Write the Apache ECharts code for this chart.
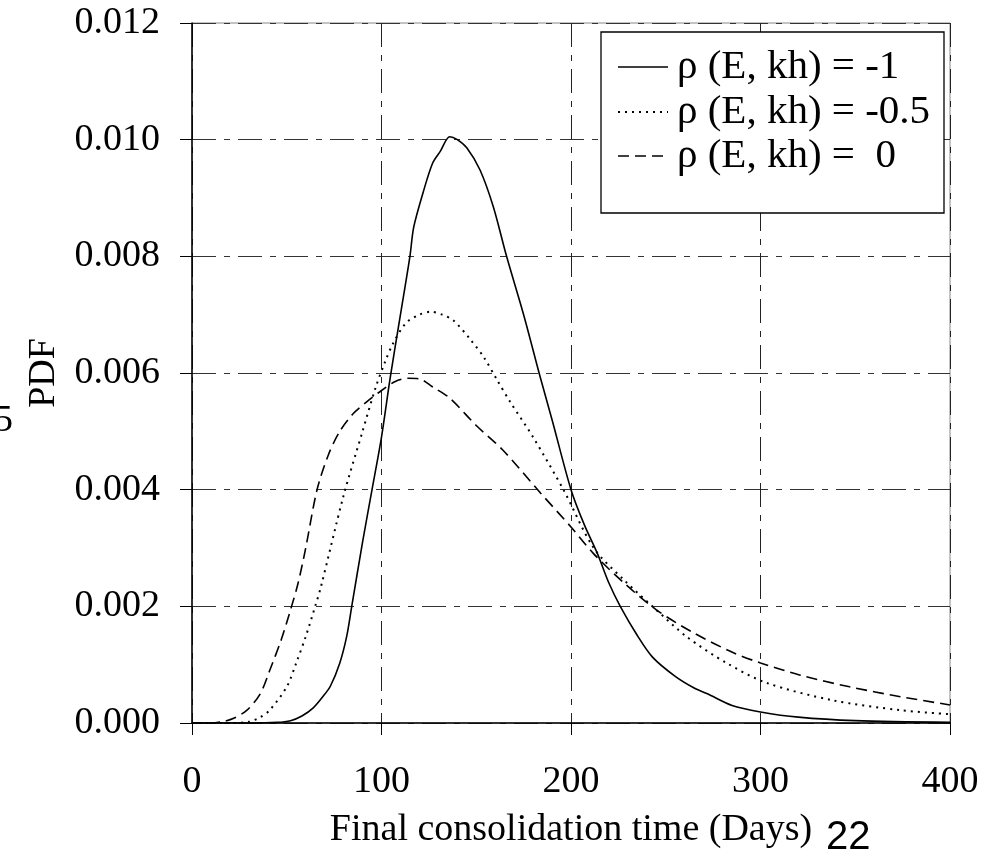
<!DOCTYPE html>
<html><head><meta charset="utf-8">
<script src="https://cdn.jsdelivr.net/npm/echarts@6/dist/echarts.min.js"></script>
<style>html,body{margin:0;padding:0;background:#fff}#c{width:1000px;height:867px}</style>
</head><body><div id="c"></div>
<script>
const seriesNames = ['ρ (E, kh) = -1', 'ρ (E, kh) = -0.5', 'ρ (E, kh) =  0'];
const xTicks = [0, 100, 200, 300, 400];
const yTicks = [0, 0.002, 0.004, 0.006, 0.008, 0.010, 0.012];

const solidX = [0, 30, 45, 52, 58, 64, 69, 73, 78, 81.6, 84.3, 90, 95, 100, 104.5, 110, 115, 117, 122, 127, 131, 136, 140, 145, 152, 159, 166, 175, 184, 190, 200, 207, 214, 220, 226, 235, 243, 255, 265, 272, 285, 300, 320, 350, 400];
const solidY = [0, 0, 0.00001, 0.00004, 0.00012, 0.00026, 0.00045, 0.00063, 0.00103, 0.00148, 0.0020, 0.0031, 0.0040, 0.0049, 0.0059, 0.0070, 0.0080, 0.0085, 0.0091, 0.0096, 0.0098, 0.01005, 0.0100, 0.00986, 0.00948, 0.00885, 0.0080, 0.0070, 0.0059, 0.0052, 0.0040, 0.0034, 0.0029, 0.0024, 0.0020, 0.0015, 0.00113, 0.0008, 0.0006, 0.0005, 0.0003, 0.00019, 0.0001, 0.00004, 0.00001];

const dotX = [0, 20, 30, 36, 41, 50, 55, 60, 65, 68, 80, 90, 97, 102, 106, 113, 120, 126, 132, 138, 147, 154, 161, 168, 180, 196, 212, 228, 245, 261, 282, 303, 338, 374, 400];
const dotY = [0, 0, 0.00002, 0.0001, 0.00022, 0.00062, 0.00103, 0.00148, 0.0020, 0.00233, 0.0039, 0.0050, 0.00576, 0.0062, 0.0065, 0.00686, 0.0070, 0.00705, 0.0070, 0.0069, 0.00657, 0.00627, 0.00588, 0.0055, 0.0049, 0.0040, 0.0030, 0.00245, 0.00194, 0.00148, 0.00103, 0.00069, 0.00039, 0.00022, 0.00015];

const dashX = [0, 10, 17, 22, 29, 36, 41, 47, 52, 56, 60, 66, 72, 78, 85, 92, 100, 107, 114, 120, 127, 136, 150, 164, 184, 200, 212, 228, 245, 265, 286, 300, 321, 347, 374, 400];
const dashY = [0, 0, 0.00003, 0.00008, 0.00022, 0.0005, 0.0009, 0.00142, 0.00194, 0.0024, 0.0030, 0.0040, 0.0046, 0.0050, 0.0053, 0.0055, 0.0057, 0.00585, 0.00591, 0.0059, 0.00576, 0.00557, 0.0051, 0.00468, 0.00394, 0.00336, 0.0029, 0.0024, 0.00194, 0.00154, 0.0012, 0.00103, 0.00082, 0.00062, 0.00045, 0.00031];

const pairs = (xs, ys) => xs.map((x, i) => [x, ys[i]]);
const serif = 'Liberation Serif';
const gridDash = [24, 8, 6, 8];
const lineStyles = [
  {color: '#000', width: 1.6, type: 'solid'},
  {color: '#000', width: 2, type: [2, 5]},
  {color: '#000', width: 1.6, type: [11, 6]}
];

// legend drawn as graphic (samples + real text)
const lg = {x: 601, y: 32, w: 343, h: 181, rowY: [67, 112, 156], sx1: 618, sx2: 668, tx: 677};
const legendGraphics = [{type: 'rect', z: 100, shape: {x: lg.x, y: lg.y, width: lg.w, height: lg.h},
  style: {fill: '#fff', stroke: '#000', lineWidth: 1.3}}];
seriesNames.forEach((n, i) => {
  const ls = lineStyles[i];
  legendGraphics.push({type: 'line', z: 101, shape: {x1: lg.sx1, y1: lg.rowY[i], x2: lg.sx2, y2: lg.rowY[i]},
    style: {stroke: '#000', lineWidth: ls.width, lineDash: ls.type === 'solid' ? null : ls.type}});
  legendGraphics.push({type: 'text', z: 101, x: lg.tx, y: lg.rowY[i],
    style: {text: n, font: '41px "Liberation Serif"', fill: '#000', verticalAlign: 'middle', textAlign: 'left'}});
});

const chart = echarts.init(document.getElementById('c'), null, {renderer: 'canvas'});
chart.setOption({
  animation: false,
  backgroundColor: '#fff',
  grid: {left: 192, right: 50, top: 23, bottom: 144, show: true, borderColor: '#888', borderWidth: 1, containLabel: false},
  xAxis: {
    type: 'value', min: xTicks[0], max: xTicks[xTicks.length - 1], interval: 100,
    name: 'Final consolidation time (Days)', nameLocation: 'middle', nameGap: 88,
    nameTextStyle: {fontFamily: serif, fontSize: 38, color: '#000'},
    axisLine: {lineStyle: {color: '#000', width: 1.5}},
    axisTick: {show: true, length: 12, inside: false, lineStyle: {color: '#000'}},
    axisLabel: {fontFamily: serif, fontSize: 38, color: '#000', margin: 40},
    splitLine: {show: true, lineStyle: {color: '#222', type: gridDash, width: 1}}
  },
  yAxis: {
    type: 'value', min: yTicks[0], max: yTicks[yTicks.length - 1], interval: 0.002,
    name: 'PDF', nameLocation: 'middle', nameGap: 129, nameRotate: 90,
    nameTextStyle: {fontFamily: serif, fontSize: 38, color: '#000'},
    axisLine: {show: true, lineStyle: {color: '#000', width: 1.5}},
    axisTick: {show: true, length: 12, inside: false, lineStyle: {color: '#000'}},
    axisLabel: {fontFamily: serif, fontSize: 38, color: '#000', margin: 32, formatter: v => v.toFixed(3)},
    splitLine: {show: true, lineStyle: {color: '#333', type: gridDash, width: 1}}
  },
  graphic: legendGraphics.concat([
    {type: 'text', left: -6, top: 402, style: {text: '5', font: '38px "Liberation Serif"', fill: '#000'}},
    {type: 'text', left: 826, top: 818, style: {text: '22', font: '40px "Liberation Sans"', fill: '#000'}}
  ]),
  series: seriesNames.map((n, i) => ({
    name: n, type: 'line', smooth: 0.3, symbol: 'none', z: 3,
    data: pairs([solidX, dotX, dashX][i], [solidY, dotY, dashY][i]),
    lineStyle: lineStyles[i], itemStyle: {color: '#000'}
  }))
});
</script></body></html>
